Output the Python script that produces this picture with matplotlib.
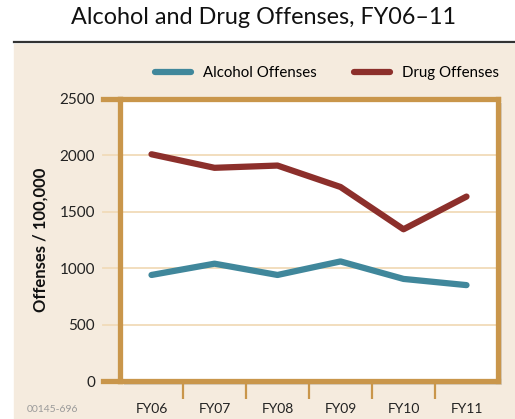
import numpy as np
import matplotlib
matplotlib.use("Agg")
import matplotlib.pyplot as plt
import matplotlib.patheffects as pe
from matplotlib.patches import Rectangle
from matplotlib.lines import Line2D

# 数据
years = ["FY06", "FY07", "FY08", "FY09", "FY10", "FY11"]
alcohol = [940, 1040, 940, 1060, 905, 850]
drug = [2010, 1890, 1910, 1720, 1345, 1635]
yticks = [0, 500, 1000, 1500, 2000, 2500]

# 颜色
c_alc = "#40879b"
c_drug = "#8c2f2b"
c_frame = "#c9964b"
c_grid = "#f1dbb9"
c_bg = "#f5ebde"

plt.rcParams["font.family"] = ["Lato", "DejaVu Sans"]

fig = plt.figure(figsize=(5.15, 4.19), dpi=100)

# 背景与标题线
fig.patches.append(Rectangle((14 / 515, 0), 1, 1 - 44 / 419,
                             transform=fig.transFigure, color=c_bg, zorder=-5))
fig.lines.append(Line2D([14 / 515, 1], [1 - 42 / 419] * 2,
                        transform=fig.transFigure, color="#333333", lw=1.6))
fig.text(0.511, 1 - 18 / 419, "Alcohol and Drug Offenses, FY06\u201311",
         ha="center", va="center", fontsize=16.8, color="#111111")

ax = fig.add_axes([120 / 515, 1 - 381 / 419, 378 / 515, 282 / 419])
ax.set_zorder(2)
ax.set_facecolor("white")
ax.patch.set_path_effects([pe.SimplePatchShadow(offset=(3, -3), alpha=0.18),
                           pe.Normal()])

x = np.arange(len(years))
ax.plot(x, alcohol, color=c_alc, lw=4.5, solid_capstyle="round",
        solid_joinstyle="round", label="Alcohol Offenses", zorder=3)
ax.plot(x, drug, color=c_drug, lw=4.5, solid_capstyle="round",
        solid_joinstyle="round", label="Drug Offenses", zorder=3)

ax.set_xlim(-0.5, len(years) - 0.5)
ax.set_ylim(0, 2500)

# 网格线
for v in yticks[1:-1]:
    ax.axhline(v, xmin=-0.045, xmax=1, color=c_grid, lw=1.3,
               clip_on=False, zorder=1)
for v in (yticks[0], yticks[-1]):
    ax.axhline(v, xmin=-0.045, xmax=0, color=c_frame, lw=3.8,
               clip_on=False, zorder=4)

for s in ax.spines.values():
    s.set_color(c_frame)
    s.set_linewidth(3.8)
    s.set_zorder(4)

ax.set_yticks(yticks)
ax.tick_params(axis="y", length=0, pad=18, labelsize=11, labelcolor="#222222")
ax.set_xticks(x)
ax.set_xticklabels(years)
ax.set_xticks(x[:-1] + 0.5, minor=True)
ax.tick_params(axis="x", which="major", length=0, pad=16, labelsize=10,
               labelcolor="#222222")
ax.tick_params(axis="x", which="minor", length=13, width=1.6, color=c_frame,
               direction="out")

ax.set_ylabel("Offenses / 100,000", fontsize=12, fontweight="bold",
              labelpad=8, color="#111111")

fig.legend(loc="center", bbox_to_anchor=(327 / 515, 1 - 73 / 419), ncol=2,
           frameon=False, handlelength=2.4, handletextpad=0.8,
           columnspacing=2.5, fontsize=10.8)

fig.text(27 / 515, 1 - 409 / 419, "00145-696", fontsize=7.5, color="#9a9a9a",
         va="center")

fig.savefig("out.png", dpi=100)
